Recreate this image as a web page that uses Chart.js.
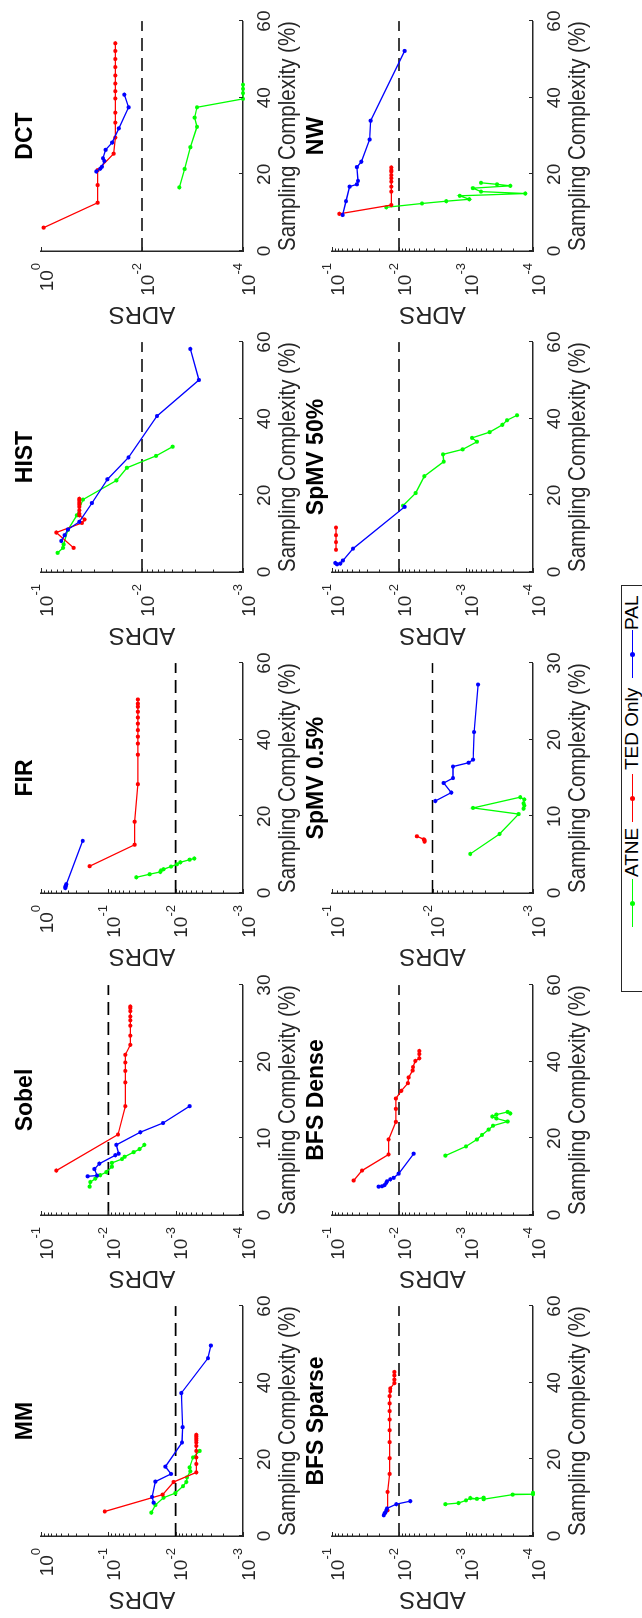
<!DOCTYPE html>
<html>
<head>
<meta charset="utf-8">
<script src="https://cdn.jsdelivr.net/npm/chart.js@4.4.1/dist/chart.umd.min.js"></script>
<style>
  html, body { margin: 0; padding: 0; background: #fff; overflow: hidden; }
  /* the figure is laid out landscape and turned a quarter turn, like the source */
  #fig { position: absolute; left: 0; top: 0; width: 1618px; height: 642px;
         transform-origin: 0 0; transform: translateY(1618px) rotate(-90deg);
         font-family: "Liberation Sans", Arial, "DejaVu Sans", sans-serif; }
  #fig canvas { position: absolute; }
  #legend { position: absolute; left: 626px; top: 621px; width: 407px; height: 26px;
            border: 1px solid #262626; box-sizing: border-box; background: #fff; }
  .ll { position: absolute; top: 9.5px; height: 1.5px; width: 48px; }
  .ld { position: absolute; top: 7.8px; width: 5px; height: 5px; border-radius: 50%; }
  .lt { position: absolute; top: -1px; font-size: 19px; line-height: 22px; color: #000; white-space: nowrap; }
</style>
</head>
<body>
<div id="fig">
  <div id="legend">
    <div class="ll" style="left:64px;background:#00ff00"></div><div class="ld" style="left:85px;background:#00ff00"></div><span class="lt" style="left:114px">ATNE</span>
    <div class="ll" style="left:169px;background:#ff0000"></div><div class="ld" style="left:190px;background:#ff0000"></div><span class="lt" style="left:221px">TED Only</span>
    <div class="ll" style="left:313px;background:#0000ff"></div><div class="ld" style="left:334px;background:#0000ff"></div><span class="lt" style="left:361px">PAL</span>
  </div>
</div>
<script>
// ---- data: [sampling complexity %, ADRS] ----
const mmATNE = [[6.1,0.023],[8.1,0.020],[10.0,0.0151],[11.2,0.0101],[13.0,0.00778],[14.1,0.00695],[15.3,0.00679],[16.9,0.00605],[17.9,0.00619],[20.5,0.00553],[22.2,0.0044]];
const mmTED = [[6.4,0.113],[10.8,0.0156],[14.1,0.0107],[16.6,0.00493],[18.8,0.00493],[20.5,0.00493],[22.2,0.00493],[23.5,0.00493],[24.4,0.00493],[25.0,0.00493],[25.5,0.00493],[26.0,0.00493],[26.4,0.00493]];
const mmPAL = [[8.7,0.0212],[10.2,0.0224],[14.2,0.020],[16.2,0.0117],[18.1,0.0142],[24.4,0.00805],[28.4,0.00787],[37.3,0.00824],[46.4,0.00331],[49.7,0.00299]];

const sobelATNE = [[3.7,0.0189],[4.3,0.0185],[4.75,0.0156],[5.2,0.0132],[5.6,0.0107],[6.3,0.00883],[6.8,0.00883],[7.3,0.00627],[7.6,0.00571],[8.2,0.00421],[8.6,0.00343],[9.15,0.00292]];
const sobelTED = [[5.8,0.0592],[10.5,0.00718],[14.2,0.0056],[17.3,0.0056],[18.8,0.0056],[19.9,0.0056],[20.9,0.0056],[22.2,0.00471],[23.4,0.00471],[24.7,0.00471],[25.4,0.00471],[25.9,0.00471],[26.6,0.00471],[27.0,0.00471],[27.2,0.00471]];
const sobelPAL = [[5.05,0.0203],[5.15,0.0147],[6.0,0.0161],[6.7,0.0136],[7.8,0.00787],[8.0,0.00703],[9.15,0.0076],[10.8,0.00335],[12.0,0.00154],[14.2,0.00062]];

const firATNE = [[4.1,0.0384],[4.9,0.0243],[5.5,0.0169],[5.9,0.0165],[6.2,0.0151],[6.9,0.0117],[7.5,0.00955],[8.0,0.00853],[8.7,0.00619],[9.0,0.00528]];
const firTED = [[7.0,0.189],[12.6,0.0406],[18.6,0.0406],[28.4,0.0363],[36.1,0.0363],[39.0,0.0363],[40.8,0.0363],[42.5,0.0363],[44.2,0.0363],[45.8,0.0363],[47.3,0.0363],[48.6,0.0363],[49.4,0.0363],[50.5,0.0363]];
const firPAL = [[1.3,0.435],[1.6,0.435],[1.9,0.426],[2.3,0.421],[13.6,0.240]];

const histATNE = [[5.0,0.0684],[6.3,0.0605],[7.2,0.0597],[11.0,0.0541],[14.8,0.0441],[18.9,0.0384],[23.9,0.0179],[27.2,0.0141],[30.3,0.00726],[32.7,0.00497]];
const histTED = [[6.3,0.0475],[10.3,0.0705],[12.8,0.0393],[13.7,0.037],[14.8,0.0417],[15.2,0.0417],[16.1,0.0417],[17.0,0.0417],[17.6,0.0417],[18.1,0.0417],[18.7,0.0417],[19.1,0.0417]];
const histPAL = [[8.1,0.063],[9.6,0.0583],[11.1,0.0541],[13.1,0.0417],[18.0,0.0313],[24.2,0.022],[29.9,0.0136],[40.7,0.0071],[50.1,0.00273],[58.2,0.00332]];

const dctATNE = [[16.6,0.00182],[21.4,0.00143],[27.1,0.0011],[32.4,0.000815],[34.8,0.000906],[37.5,0.000815],[39.7,0.0001],[41.2,0.0001],[42.3,0.0001],[43.4,0.0001]];
const dctTED = [[6.1,0.885],[12.6,0.0755],[17.2,0.0755],[21.1,0.0755],[25.4,0.0363],[29.6,0.0337],[33.5,0.0337],[36.1,0.0337],[39.8,0.0337],[41.7,0.0337],[43.7,0.0337],[45.8,0.0337],[48.0,0.0337],[50.1,0.0337],[52.2,0.0337],[54.2,0.0337]];
const dctPAL = [[20.75,0.0802],[21.5,0.0668],[22.0,0.0619],[23.5,0.0557],[24.2,0.0592],[26.4,0.0525],[28.3,0.0389],[32.0,0.0288],[37.5,0.0184],[40.8,0.0224]];

const bfsSparseATNE = [[8.3,0.00203],[8.6,0.00129],[9.3,0.001],[9.9,0.000861],[9.7,0.000686],[10.0,0.000545],[9.6,0.000545],[10.8,0.000201],[10.9,0.0001],[11.3,0.0001]];
const bfsSparseTED = [[6.7,0.0148],[11.5,0.0148],[16.2,0.0138],[20.3,0.0138],[24.5,0.0138],[27.6,0.0138],[30.4,0.0138],[32.6,0.0138],[34.6,0.0138],[36.5,0.0138],[37.8,0.0135],[38.5,0.0135],[39.9,0.0117],[40.8,0.0117],[41.9,0.0117],[42.8,0.0117]];
const bfsSparsePAL = [[5.4,0.0169],[5.9,0.0164],[6.1,0.016],[6.7,0.0155],[7.2,0.0151],[8.3,0.011],[9.1,0.00678]];

const bfsDenseATNE = [[15.5,0.00203],[17.9,0.001],[19.7,0.000686],[20.9,0.000577],[22.3,0.000459],[23.3,0.000395],[24.4,0.000239],[25.2,0.000352],[25.7,0.000405],[26.2,0.000352],[26.9,0.000239],[26.5,0.000218]];
const bfsDenseTED = [[9.0,0.0475],[11.6,0.0356],[15.8,0.0143],[19.7,0.0143],[24.3,0.0111],[27.7,0.0111],[30.4,0.0111],[32.4,0.00923],[34.4,0.00735],[35.9,0.00718],[37.7,0.00625],[38.6,0.00618],[40.2,0.0057],[40.9,0.00498],[42.0,0.00498],[42.8,0.00498]];
const bfsDensePAL = [[7.4,0.0201],[7.5,0.0179],[7.8,0.0164],[8.4,0.0155],[8.8,0.0151],[9.3,0.0135],[9.7,0.012],[10.8,0.0101],[16.0,0.00604]];

const spmv05ATNE = [[5.1,0.00421],[7.7,0.00215],[10.3,0.00139],[11.1,0.00395],[12.5,0.00134],[12.2,0.00122],[11.7,0.00124],[11.4,0.00122],[11.0,0.00124]];
const spmv05TED = [[7.4,0.0143],[7.0,0.0122],[6.9,0.012],[6.7,0.012]];
const spmv05PAL = [[12.0,0.00938],[13.1,0.0065],[14.35,0.00774],[15.0,0.00625],[16.5,0.00625],[17.0,0.00437],[17.4,0.00395],[21.0,0.00386],[27.2,0.00352]];

const spmv50ATNE = [[17.3,0.00871],[20.6,0.00564],[25.0,0.00419],[28.8,0.00215],[30.7,0.0022],[32.0,0.00112],[34.0,0.000686],[35.0,0.000813],[36.5,0.000444],[38.4,0.000287],[39.6,0.000244],[40.9,0.000173]];
const spmv50TED = [[5.8,0.0871],[7.8,0.0871],[9.6,0.0871],[11.6,0.0871]];
const spmv50PAL = [[2.0,0.0841],[2.35,0.0891],[2.2,0.0752],[3.0,0.0686],[6.1,0.0486],[17.0,0.00822]];

const nwATNE = [[11.4,0.0155],[12.4,0.00454],[13.0,0.00197],[13.5,0.000891],[14.4,0.00124],[15.0,0.00013],[15.5,0.000597],[16.4,0.000787],[17.0,0.000218],[17.4,0.000344],[17.8,0.000597]];
const nwTED = [[9.7,0.0778],[12.0,0.013],[15.5,0.013],[16.8,0.013],[18.1,0.013],[19.0,0.013],[19.8,0.013],[20.7,0.013],[21.1,0.013],[21.8,0.013]];
const nwPAL = [[9.4,0.0693],[13.0,0.0618],[16.8,0.0545],[17.4,0.0424],[18.3,0.0409],[21.9,0.0424],[23.3,0.0365],[29.1,0.0274],[34.0,0.0265],[52.2,0.00822]];

// ---- ticks ----
const xTicks60 = [0, 20, 40, 60];
const xTicks30 = [0, 10, 20, 30];
const threshold = 0.01;

const FONT = '"Liberation Sans", Arial, "DejaVu Sans", sans-serif';
const INK = '#262626';

const panels = [
  { title: 'MM',         col: 0, row: 0, xTicks: xTicks60, yDec: [0, -1, -2, -3],  minor: true,  atne: mmATNE,        ted: mmTED,        pal: mmPAL },
  { title: 'Sobel',      col: 1, row: 0, xTicks: xTicks30, yDec: [-1, -2, -3, -4], minor: true,  atne: sobelATNE,     ted: sobelTED,     pal: sobelPAL },
  { title: 'FIR',        col: 2, row: 0, xTicks: xTicks60, yDec: [0, -1, -2, -3],  minor: true,  atne: firATNE,       ted: firTED,       pal: firPAL },
  { title: 'HIST',       col: 3, row: 0, xTicks: xTicks60, yDec: [-1, -2, -3],     minor: true,  atne: histATNE,      ted: histTED,      pal: histPAL },
  { title: 'DCT',        col: 4, row: 0, xTicks: xTicks60, yDec: [0, -2, -4],      minor: false, atne: dctATNE,       ted: dctTED,       pal: dctPAL },
  { title: 'BFS Sparse', col: 0, row: 1, xTicks: xTicks60, yDec: [-1, -2, -3, -4], minor: true,  atne: bfsSparseATNE, ted: bfsSparseTED, pal: bfsSparsePAL },
  { title: 'BFS Dense',  col: 1, row: 1, xTicks: xTicks60, yDec: [-1, -2, -3, -4], minor: true,  atne: bfsDenseATNE,  ted: bfsDenseTED,  pal: bfsDensePAL },
  { title: 'SpMV 0.5%',  col: 2, row: 1, xTicks: xTicks30, yDec: [-1, -2, -3],     minor: true,  atne: spmv05ATNE,    ted: spmv05TED,    pal: spmv05PAL },
  { title: 'SpMV 50%',   col: 3, row: 1, xTicks: xTicks60, yDec: [-1, -2, -3, -4], minor: true,  atne: spmv50ATNE,    ted: spmv50TED,    pal: spmv50PAL },
  { title: 'NW',         col: 4, row: 1, xTicks: xTicks60, yDec: [-1, -2, -3, -4], minor: true,  atne: nwATNE,        ted: nwTED,        pal: nwPAL }
];

const toPts = arr => arr.map(([x, y]) => ({ x, y }));

// matlab style inward ticks on both axes
const inwardTicks = {
  id: 'inwardTicks',
  afterDraw(chart, args, opts) {
    const { ctx, chartArea: a, scales: { x, y } } = chart;
    ctx.save();
    ctx.strokeStyle = INK;
    ctx.lineWidth = 1;
    ctx.beginPath();
    x.ticks.forEach(t => {
      const px = Math.round(x.getPixelForValue(t.value)) + 0.5;
      ctx.moveTo(px, a.bottom); ctx.lineTo(px, a.bottom - 4);
    });
    y.ticks.forEach(t => {
      const py = Math.round(y.getPixelForValue(t.value)) + 0.5;
      ctx.moveTo(a.left, py); ctx.lineTo(a.left + 4, py);
    });
    if (opts.minor) {
      const lo = Math.round(Math.log10(y.min)), hi = Math.round(Math.log10(y.max));
      for (let e = lo; e < hi; e++) {
        for (let m = 2; m <= 9; m++) {
          const py = Math.round(y.getPixelForValue(m * Math.pow(10, e))) + 0.5;
          ctx.moveTo(a.left, py); ctx.lineTo(a.left + 2.5, py);
        }
      }
    }
    ctx.stroke();
    ctx.restore();
  }
};

// "10" with a raised exponent, at each log tick of the y scale
const decadeLabels = {
  id: 'decadeLabels',
  afterDraw(chart) {
    const { ctx, chartArea: a, scales: { y } } = chart;
    ctx.save();
    ctx.fillStyle = INK;
    ctx.textAlign = 'left';
    ctx.textBaseline = 'alphabetic';
    y.ticks.forEach(t => {
      const py = y.getPixelForValue(t.value);
      const exp = String(Math.round(Math.log10(t.value)));
      ctx.font = '13px ' + FONT;
      const ew = ctx.measureText(exp).width;
      ctx.font = '19px ' + FONT;
      const bw = ctx.measureText('10').width;
      const right = a.left - 12;
      ctx.fillText('10', right - ew - bw, py + 11.6);
      ctx.font = '13px ' + FONT;
      ctx.fillText(exp, right - ew, py - 1);
    });
    ctx.restore();
  }
};

// bold title centred over the axes
const panelTitle = {
  id: 'panelTitle',
  afterDraw(chart, args, opts) {
    const { ctx, chartArea: a } = chart;
    ctx.save();
    ctx.font = 'bold 23px ' + FONT;
    ctx.fillStyle = '#000';
    ctx.textAlign = 'center';
    ctx.textBaseline = 'alphabetic';
    ctx.fillText(opts.text, (a.left + a.right) / 2, a.top - 9);
    ctx.restore();
  }
};

const fig = document.getElementById('fig');
const colLeft = [82, 403, 725, 1046, 1367];
const rowTop = [41, 332];
const rowH = [202, 201];
const plotW = 231;
const AXW = 85, AXH = 65, PADT = 40, PADR = 20;

function series(label, pts, color) {
  return {
    label, data: toPts(pts), borderColor: color, backgroundColor: color,
    borderWidth: 1.3, pointRadius: 2.1, pointBorderWidth: 0, pointBackgroundColor: color,
    tension: 0, clip: false
  };
}

panels.forEach(p => {
  const cv = document.createElement('canvas');
  const w = AXW + plotW + PADR, h = PADT + rowH[p.row] + AXH;
  cv.width = w; cv.height = h;
  cv.style.width = w + 'px'; cv.style.height = h + 'px';
  cv.style.left = (colLeft[p.col] - AXW) + 'px';
  cv.style.top = (rowTop[p.row] - PADT) + 'px';
  fig.insertBefore(cv, document.getElementById('legend'));

  const xMax = p.xTicks[p.xTicks.length - 1];
  const yMax = Math.pow(10, Math.max(...p.yDec));
  const yMin = Math.pow(10, Math.min(...p.yDec));

  new Chart(cv, {
    type: 'line',
    data: {
      datasets: [
        series('PAL', p.pal, '#0000ff'),
        series('TED Only', p.ted, '#ff0000'),
        series('ATNE', p.atne, '#00ff00'),
        { label: 'threshold', data: [{ x: 0, y: threshold }, { x: xMax, y: threshold }],
          borderColor: '#000', borderWidth: 1.6, borderDash: [13, 7], pointRadius: 0, tension: 0 }
      ]
    },
    options: {
      responsive: false,
      maintainAspectRatio: false,
      animation: false,
      devicePixelRatio: 1,
      layout: { padding: { top: PADT, right: PADR, bottom: 0, left: 0 } },
      plugins: {
        legend: { display: false },
        tooltip: { enabled: false },
        panelTitle: { text: p.title },
        inwardTicks: { minor: p.minor }
      },
      scales: {
        x: {
          type: 'linear', min: 0, max: xMax,
          afterBuildTicks: s => { s.ticks = p.xTicks.map(v => ({ value: v })); },
          afterFit: s => { s.height = AXH; },
          grid: { display: false, drawTicks: false },
          border: { display: true, color: INK, width: 1.5 },
          ticks: { padding: 10.5, color: INK, maxRotation: 0, autoSkip: false, font: { size: 19, family: FONT } },
          title: { display: true, text: 'Sampling Complexity (%)', color: INK,
                   font: { size: 24, family: FONT }, padding: { top: 0, bottom: 5 } }
        },
        y: {
          type: 'logarithmic', min: yMin, max: yMax,
          afterBuildTicks: s => { s.ticks = p.yDec.map(e => ({ value: Math.pow(10, e) })); },
          afterFit: s => { s.width = AXW; },
          grid: { display: false, drawTicks: false },
          border: { display: true, color: INK, width: 1.5 },
          ticks: { display: false },
          title: { display: true, text: 'ADRS', color: INK,
                   font: { size: 24, family: FONT }, padding: { top: 7.6, bottom: 0 } }
        }
      }
    },
    plugins: [inwardTicks, decadeLabels, panelTitle]
  });
});
</script>
</body>
</html>
